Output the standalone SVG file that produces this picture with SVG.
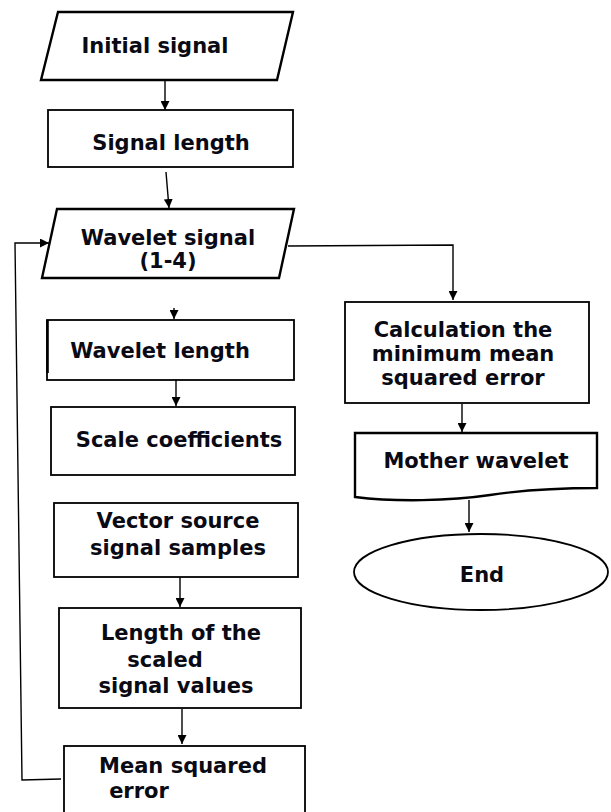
<svg xmlns="http://www.w3.org/2000/svg" width="611" height="812" viewBox="0 0 611 812">
<defs>
<style>
.shape{fill:#fff;stroke:#000;stroke-width:1.8}
.thick{stroke-width:2.4}
.conn{fill:none;stroke:#000;stroke-width:1.4}
.t{font-family:"DejaVu Sans",Verdana,sans-serif;font-weight:bold;font-size:21px;fill:#0a0a14;text-anchor:middle}
</style>
<marker id="ah" viewBox="0 0 10 10" refX="10" refY="5" markerWidth="9" markerHeight="9" markerUnits="userSpaceOnUse" orient="auto">
<path d="M0,0 L10,5 L0,10 Z" fill="#000"/>
</marker>
</defs>
<rect width="611" height="812" fill="#fff"/>
<g id="connectors">
<line class="conn" x1="165" y1="80" x2="165" y2="110" marker-end="url(#ah)"/>
<line class="conn" x1="166" y1="172" x2="169" y2="208" marker-end="url(#ah)"/>
<line class="conn" x1="174" y1="308" x2="174" y2="319" marker-end="url(#ah)"/>
<line class="conn" x1="176" y1="376" x2="176" y2="406" marker-end="url(#ah)"/>
<line class="conn" x1="180" y1="577" x2="180" y2="607" marker-end="url(#ah)"/>
<line class="conn" x1="182" y1="709" x2="182" y2="744" marker-end="url(#ah)"/>
<polyline class="conn" points="288,246 453,245 453,300" marker-end="url(#ah)"/>
<line class="conn" x1="462" y1="404" x2="462" y2="432" marker-end="url(#ah)"/>
<line class="conn" x1="469" y1="500" x2="469" y2="532" marker-end="url(#ah)"/>
<polyline class="conn" points="61,779 22,780 15,243 49,243" marker-end="url(#ah)"/>
</g>
<g id="initial-signal">
<polygon class="shape thick" points="58,12 293,12 277,80 41,80"/>
<text class="t" x="155" y="53">Initial signal</text>
</g>
<g id="signal-length">
<rect class="shape" x="48" y="110" width="245" height="57"/>
<text class="t" x="171" y="150">Signal length</text>
</g>
<g id="wavelet-signal">
<polygon class="shape thick" points="57,209 294,209 279,278 42,278"/>
<text class="t" x="168" y="245">Wavelet signal</text>
<text class="t" x="168" y="268">(1-4)</text>
</g>
<g id="wavelet-length">
<rect class="shape" x="47" y="320" width="247" height="60"/>
<line x1="47.5" y1="320" x2="47.5" y2="373" stroke="#000" stroke-width="2.6"/>
<text class="t" x="160" y="358">Wavelet length</text>
</g>
<g id="scale-coefficients">
<rect class="shape" x="51" y="407" width="244" height="68"/>
<text class="t" x="179" y="447">Scale coefficients</text>
</g>
<g id="vector-source">
<rect class="shape" x="54" y="503" width="244" height="74"/>
<text class="t" x="178" y="528">Vector source</text>
<text class="t" x="178" y="555">signal samples</text>
</g>
<g id="length-scaled">
<rect class="shape" x="59" y="608" width="242" height="100"/>
<text class="t" x="181" y="640">Length of the</text>
<text class="t" x="165" y="667">scaled</text>
<text class="t" x="176" y="693">signal values</text>
</g>
<g id="mean-squared-error">
<rect class="shape" x="64" y="746" width="241" height="90"/>
<text class="t" x="183" y="773">Mean squared</text>
<text class="t" x="139" y="798">error</text>
</g>
<g id="calc-min-mse">
<rect class="shape" x="345" y="302" width="244" height="101"/>
<text class="t" x="463" y="337">Calculation the</text>
<text class="t" x="463" y="361">minimum mean</text>
<text class="t" x="463" y="385">squared error</text>
</g>
<g id="mother-wavelet">
<path class="shape thick" d="M355,433 H597 V488 C565,488 530,489 490,495 C450,501 395,502 355,497 Z"/>
<text class="t" x="476" y="468">Mother wavelet</text>
</g>
<g id="end">
<ellipse class="shape" cx="481" cy="572" rx="127" ry="38"/>
<text class="t" x="482" y="582">End</text>
</g>
</svg>
